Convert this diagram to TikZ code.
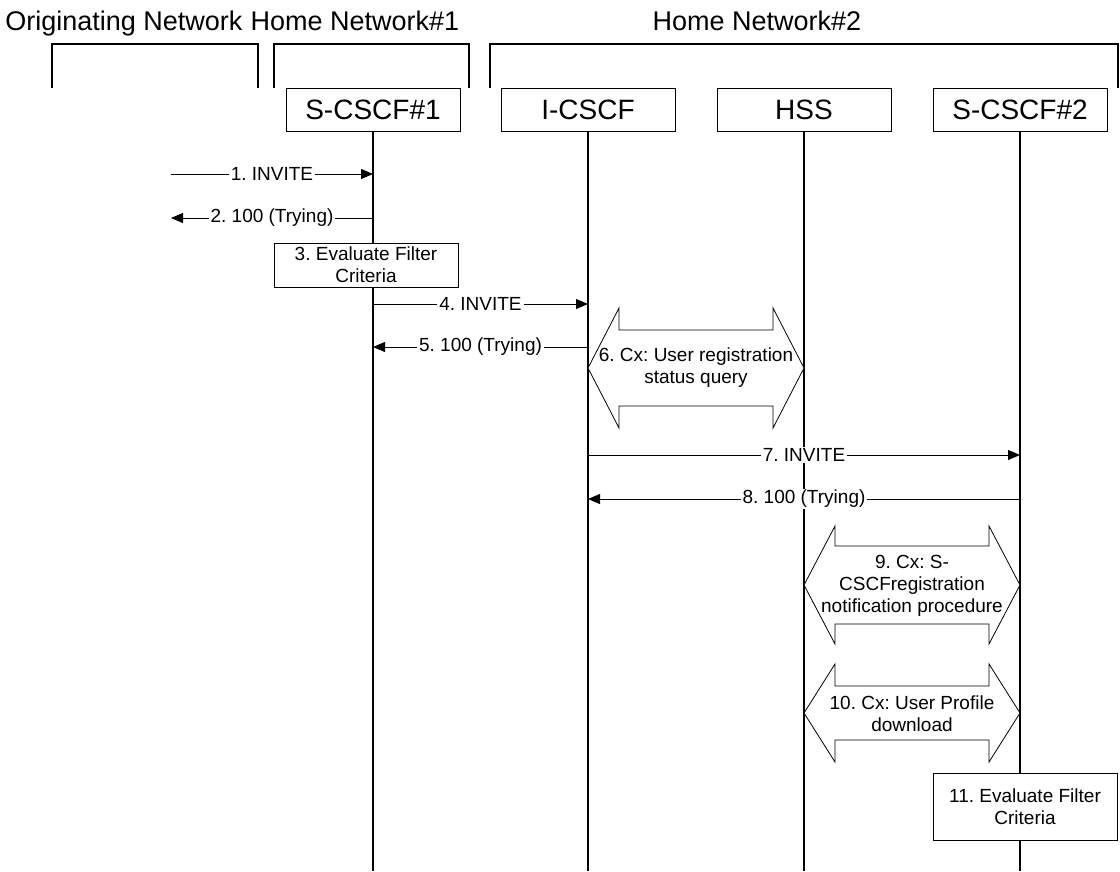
\documentclass[tikz,border=0pt]{standalone}
\usepackage{fontspec}
\setmainfont{Liberation Sans}
\usetikzlibrary{arrows.meta}
\begin{document}
\frenchspacing
\begin{tikzpicture}[x=1pt,y=-1pt,
  every node/.style={font=\fontsize{19}{22}\selectfont, inner sep=0pt},
  ent/.style={draw, line width=1pt, minimum width=174pt, minimum height=43pt,
    font=\fontsize{28}{32}\selectfont, fill=white},
  title/.style={font=\fontsize{27}{31}\selectfont, anchor=base},
  bracket/.style={line width=1.2pt},
  life/.style={line width=1.2pt},
  msg/.style={line width=0.8pt, -{Triangle[length=12pt,width=10pt]}},
  lbl/.style={fill=white, inner xsep=2pt, inner ysep=1pt},
  proc/.style={draw, line width=1pt, fill=white, align=center},
  dbl/.style={draw, line width=0.8pt, fill=white},
  dtext/.style={align=center},
]
\useasboundingbox (0,0) rectangle (1120,871);
\fill[white] (0,0) rectangle (1120,871);

% titles
\node[title] (tOrig) at (124,30) {Originating Network};
\node[title] (tH1) at (355,30) {Home Network\#1};
\node[title] (tH2) at (757,30) {Home Network\#2};

% brackets
\draw[bracket] (52,88) -- (52,44) -- (258,44) -- (258,88);
\draw[bracket] (274,88) -- (274,44) -- (469,44) -- (469,88);
\draw[bracket] (490,88) -- (490,44) -- (1118,44) -- (1118,88);

% entities
\node[ent] (s1) at (373,109.5) {S-CSCF\#1};
\node[ent] (ic) at (588,109.5) {I-CSCF};
\node[ent] (hss) at (804,109.5) {HSS};
\node[ent] (s2) at (1020,109.5) {S-CSCF\#2};

% lifelines
\coordinate (s1b) at (373,871);
\coordinate (icb) at (588,871);
\coordinate (hssb) at (804,871);
\coordinate (s2b) at (1020,871);
\draw[life] (s1) -- (s1b);
\draw[life] (ic) -- (icb);
\draw[life] (hss) -- (hssb);
\draw[life] (s2) -- (s2b);

% 1, 2
\coordinate (o1) at (171,174);
\coordinate (o2) at (171,218);
\draw[msg] (o1) -- (o1 -| s1) node[midway,lbl] {1. INVITE};
\draw[msg] (o2 -| s1) -- (o2) node[midway,lbl] {2. 100 (Trying)};

% 3
\node[proc, minimum width=184pt, minimum height=44pt] (p3) at (366,265)
  {3. Evaluate Filter\\Criteria};

% 4, 5
\coordinate (m4) at (0,304);
\coordinate (m5) at (0,347);
\draw[msg] (m4 -| s1) -- (m4 -| ic) node[midway,lbl] {4. INVITE};
\draw[msg] (m5 -| ic) -- (m5 -| s1) node[midway,lbl] {5. 100 (Trying)};

% 6
\coordinate (m6) at (0,368);
\coordinate (a6) at (m6 -| ic);
\draw[dbl] (a6) -- ++(31,-60) -- ++(0,22) -- ++(154,0) -- ++(0,-22)
  -- (m6 -| hss) -- ++(-31,60) -- ++(0,-22) -- ++(-154,0) -- ++(0,22) -- cycle;
\node[dtext] (t6) at (696,368) {6. Cx: User registration\\status query};

% 7, 8
\coordinate (m7) at (0,455);
\coordinate (m8) at (0,499);
\draw[msg] (m7 -| ic) -- (m7 -| s2) node[midway,lbl] {7. INVITE};
\draw[msg] (m8 -| s2) -- (m8 -| ic) node[midway,lbl] {8. 100 (Trying)};

% 9
\coordinate (m9) at (0,585);
\coordinate (a9) at (m9 -| hss);
\draw[dbl] (a9) -- ++(31,-59) -- ++(0,20) -- ++(154,0) -- ++(0,-20)
  -- (m9 -| s2) -- ++(-31,59) -- ++(0,-20) -- ++(-154,0) -- ++(0,20) -- cycle;
\node[dtext] (t9) at (912,586) {9. Cx: S-\\CSCFregistration\\notification procedure};

% 10
\coordinate (m10) at (0,713);
\coordinate (a10) at (m10 -| hss);
\draw[dbl] (a10) -- ++(31,-49) -- ++(0,22) -- ++(154,0) -- ++(0,-22)
  -- (m10 -| s2) -- ++(-31,49) -- ++(0,-22) -- ++(-154,0) -- ++(0,22) -- cycle;
\node[dtext] (t10) at (912,714) {10. Cx: User Profile\\download};

% 11
\node[proc, minimum width=184pt, minimum height=67pt] (p11) at (1025,806.5)
  {11. Evaluate Filter\\Criteria};
\end{tikzpicture}
\end{document}
